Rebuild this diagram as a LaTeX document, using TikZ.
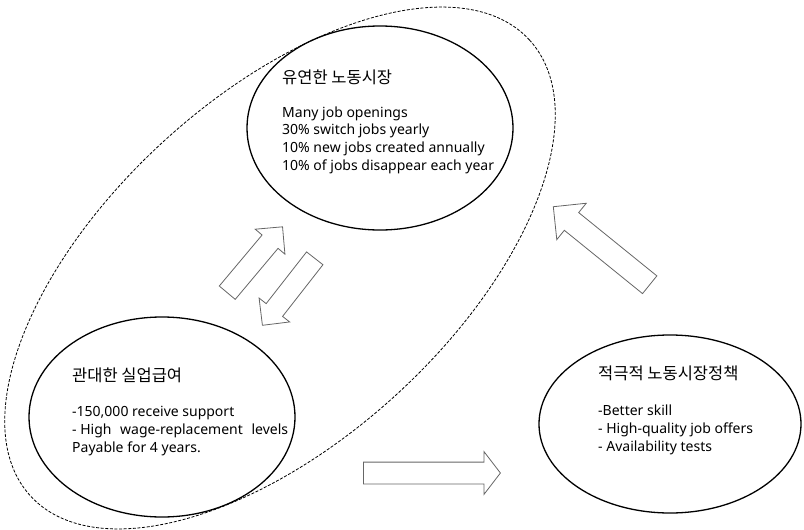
\documentclass[tikz,border=0pt]{standalone}
\usepackage{fontspec}
\setmainfont{Noto Sans CJK KR}
\newfontfamily\latinfont{Noto Sans}
\usetikzlibrary{shapes.geometric}
\usetikzlibrary{shapes.arrows}
\usetikzlibrary{positioning}

\tikzset{
  bubble/.style={draw=black, line width=1.3pt, ellipse, inner sep=0pt},
  bigarrow/.style={single arrow, draw=black!60, fill=white, line width=0.8pt,
    inner xsep=0pt, anchor=tail, single arrow tip angle=90},
  headline/.style={font=\fontsize{16.5}{18}\selectfont, anchor=base west, inner sep=0pt},
  items/.style={font=\latinfont\fontsize{14}{17.8}\selectfont, align=left, anchor=base west, inner sep=0pt}
}

\begin{document}
\begin{tikzpicture}[x=1pt, y=-1pt, every node/.style={scale=1}]
\useasboundingbox (0,0) rectangle (804,530);

% outer dashed region
\node[draw=black, dashed, dash pattern=on 3pt off 1.6pt, line width=0.8pt, ellipse,
      rotate=42.4, minimum width=676pt, minimum height=344pt, inner sep=0pt] (region) at (280,268) {};

% the three bubbles
\node[bubble, minimum width=266pt, minimum height=204pt] (flex) at (380,128) {};
\node[bubble, minimum width=266pt, minimum height=200pt] (benefit) at (162,417) {};
\node[bubble, minimum width=262pt, minimum height=178pt] (active) at (670,424) {};

% texts (base = last line)
\node[headline] (flexT) at (282,83) {유연한 노동시장};
\node[items] (flexL) at (282,170.5) {Many job openings\\30\% switch jobs yearly\\10\% new jobs created annually\\10\% of jobs disappear each year};

\node[headline] (benefitT) at (72,381) {관대한 실업급여};
\node[items] (benefitL) at (72,452) {-150,000 receive support\\- High\hspace{5pt} wage-replacement\hspace{5pt} levels\\Payable for 4 years.};

\node[headline] (activeT) at (598,379) {적극적 노동시장정책};
\node[items] (activeL) at (598,451) {-Better skill\\- High-quality job offers\\- Availability tests};

% block arrows
\node[bigarrow, rotate=50, inner ysep=10pt, single arrow head extend=9pt, minimum height=86pt] (toFlex) at (227,293) {};
\node[bigarrow, rotate=232, inner ysep=10pt, single arrow head extend=9pt, minimum height=85pt] (toBenefit) at (315,258) {};
\node[bigarrow, rotate=0, inner ysep=10.5pt, single arrow head extend=10.5pt, single arrow tip angle=105, minimum height=137pt] (toActive) at (363,473) {};
\node[bigarrow, rotate=141, inner ysep=11pt, single arrow head extend=12pt, minimum height=124pt] (fromActive) at (650,285) {};
\end{tikzpicture}
\end{document}
